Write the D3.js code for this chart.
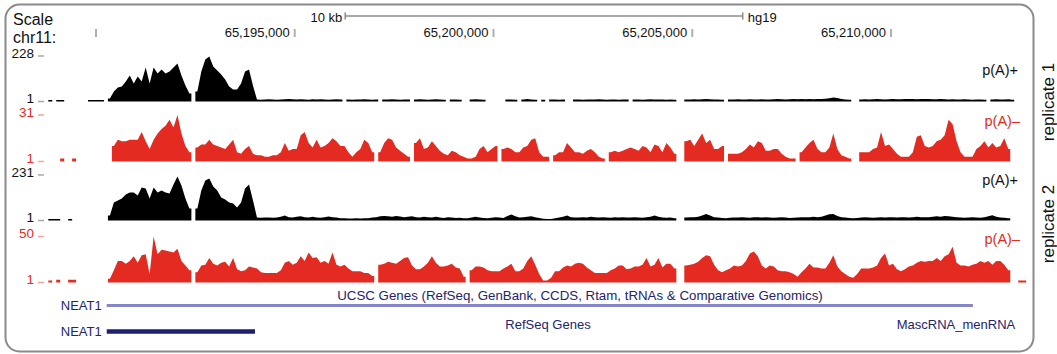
<!DOCTYPE html>
<html><head><meta charset="utf-8">
<script src="https://cdn.jsdelivr.net/npm/d3@7"></script>
<style>html,body{margin:0;padding:0;background:#fff}svg{display:block}</style>
</head><body><svg id="c" width="1057" height="354"></svg>
<script>
// ---------------- data ----------------
const chromName = "chr11";
const assembly = "hg19";
const viewRange = [65188340, 65213497];
const binStart = 65188700;
const binSize = 100;
const positionTicks = [65190000, 65195000, 65200000, 65205000, 65210000];
const positionLabels = ["", "65,195,000", "65,200,000", "65,205,000", "65,210,000"];
const scaleBar = [65196270, 65206270];
const trackNames = ["p(A)+", "p(A)\u2013", "p(A)+", "p(A)\u2013"];
const trackMax = [228, 31, 231, 50];
const trackMin = [1, 1, 1, 1];
const replicateLabels = ["replicate 1", "replicate 2"];

const rep1PolyAPlus = [
null,8,null,8,8,null,null,null,null,null,
null,8,8,8,8,null,16,51,71,76,
101,131,91,126,101,171,91,171,141,161,
141,151,171,191,131,81,41,null,51,151,
211,226,176,156,136,111,76,61,61,91,
151,161,80,11,10,11,12,11,10,11,
12,13,12,11,12,11,10,12,11,12,
11,10,11,12,11,null,11,10,11,11,
12,11,10,11,null,11,11,12,11,10,
11,11,null,11,12,11,10,11,12,11,
10,null,11,11,10,null,null,11,12,11,
10,null,null,null,null,null,11,11,10,null,
11,13,11,10,null,10,null,11,11,10,
11,null,null,11,11,10,11,11,11,12,
11,10,11,11,10,11,11,null,11,11,
10,11,12,11,11,11,10,11,10,null,
null,11,11,12,11,12,14,12,11,11,
10,null,11,11,12,11,11,12,11,11,
12,11,11,12,13,12,11,12,13,12,
13,12,13,12,13,14,15,17,21,18,
13,11,10,null,null,11,12,11,12,13,
12,11,12,13,12,12,13,14,13,12,
13,14,13,12,12,13,12,11,12,11,
11,12,11,10,11,11,10,null,11,12,
11,11,12,10,null,null,null,null];

const rep1PolyAMinus = [
null,null,null,null,3,null,null,3,null,null,
null,null,null,null,null,null,null,11,15,14,
14,15,15,15,20,14,9,15,19,22,
24,28,23,31,19,11,7,null,10,12,
12,15,12,11,10,9,12,15,7,6,
9,11,6,5,5,4,4,5,5,7,
13,8,9,9,18,20,13,10,15,10,
11,13,16,14,11,11,7,4,7,9,
15,13,7,null,7,13,16,15,10,8,
6,4,null,13,16,9,10,14,11,8,
6,5,8,7,5,4,3,3,4,9,
11,7,9,11,null,9,10,9,7,7,
10,11,15,16,7,4,4,null,5,7,
7,13,10,7,7,6,8,9,7,4,
3,null,7,8,7,8,9,10,9,8,
11,10,7,12,11,7,13,10,6,null,
null,14,15,11,15,19,13,15,9,9,
11,null,6,6,6,7,9,12,10,14,
13,8,8,9,9,6,4,3,3,null,
7,10,13,15,9,7,7,10,19,9,
5,4,3,null,null,7,7,7,9,10,
20,11,12,9,6,4,4,4,7,17,
18,11,10,11,14,15,18,28,25,14,
7,4,4,4,9,11,14,10,13,10,
11,16,9,null,null,null,null,null];

const rep2PolyAPlus = [
null,8,8,8,null,null,8,null,null,null,
null,null,null,null,null,null,26,92,102,112,
132,142,142,127,168,163,112,168,142,153,
142,137,183,223,178,112,62,null,62,153,
203,213,173,153,117,107,92,87,67,92,
163,183,102,16,15,16,16,15,16,20,
26,18,16,20,22,17,16,20,16,15,
18,21,17,16,13,12,11,11,12,11,
12,13,16,18,22,24,22,20,24,21,
18,20,22,18,16,20,18,16,20,16,
14,18,16,14,15,13,12,16,20,16,
14,13,15,18,16,14,24,31,22,16,
18,20,22,18,14,10,8,9,12,16,
20,26,18,16,16,18,16,20,17,16,
18,16,15,17,16,18,16,16,17,16,
15,18,20,26,20,16,15,16,12,null,
null,16,18,18,20,26,34,26,18,16,
14,12,15,16,16,18,16,15,18,17,
16,18,16,15,16,18,16,14,15,16,
18,17,18,20,18,20,26,32,34,24,
18,16,14,12,14,16,18,16,15,16,
18,16,17,18,16,17,18,16,18,20,
18,17,18,20,22,20,24,22,20,18,
16,15,16,18,16,15,18,22,28,20,
16,15,12,null,null,null,null,null];

const rep2PolyAMinus = [
null,3,null,4,null,null,4,4,null,null,
null,null,null,null,null,null,5,14,24,24,
21,24,29,22,30,31,10,50,31,36,
35,34,33,37,24,19,14,null,12,19,
20,27,21,19,22,23,18,27,15,13,
14,18,17,16,12,11,11,11,11,14,
22,24,20,22,29,24,33,27,28,22,
24,21,33,20,18,20,16,13,13,13,
11,11,8,null,20,21,23,22,21,24,
27,28,19,15,15,18,22,29,22,18,
18,19,21,17,16,7,null,14,18,18,
17,14,13,13,13,16,18,21,13,13,
16,24,29,20,10,3,3,6,13,13,
17,19,18,21,22,21,17,14,11,11,
11,11,14,16,19,19,15,16,18,18,
20,27,18,20,27,17,21,21,16,null,
null,19,20,21,23,27,30,29,20,14,
12,14,16,19,18,19,24,32,34,29,
19,16,19,18,14,13,13,12,10,7,
12,16,21,17,17,16,16,22,30,18,
13,10,7,6,10,16,16,16,17,19,
27,32,19,21,15,13,15,18,19,22,
24,23,24,24,27,24,29,31,39,22,
19,19,18,20,21,24,22,24,20,24,
24,20,14,null,null,3,3,null];

const geneGroupTitles = ["UCSC Genes (RefSeq, GenBank, CCDS, Rtam, tRNAs & Comparative Genomics)", "RefSeq Genes"];
const geneNames = ["NEAT1", "NEAT1"];
const geneStarts = [65190270, 65190270];
const geneEnds = [65212060, 65194000];
const extraGeneLabel = "MascRNA_menRNA";

// ---------------- drawing ----------------
const svg = d3.select("#c");
const FONT = "'Liberation Sans', Arial, Helvetica, sans-serif";
const RED = "#e32b21";
const NAVY = "#23236e";
const trackColors = ["#000", RED, "#000", RED];
const trackData = [rep1PolyAPlus, rep1PolyAMinus, rep2PolyAPlus, rep2PolyAMinus];
const trackBox = [[56, 101.5], [115, 161.5], [175, 220.5], [236.5, 282.5]];

const x = d3.scaleLinear().domain(viewRange).range([30, 1030]);

// frame
svg.append("rect").attr("x", 5.5).attr("y", 4.5).attr("width", 1028).attr("height", 347)
  .attr("rx", 14).attr("ry", 14).attr("fill", "none").attr("stroke", "#8a8a8a").attr("stroke-width", 2);

// ruler
svg.append("text").attr("x", 13).attr("y", 25).text("Scale")
  .attr("font-family", FONT).attr("font-size", 16).attr("fill", "#111");
svg.append("text").attr("x", 13).attr("y", 43).text(chromName + ":")
  .attr("font-family", FONT).attr("font-size", 16).attr("fill", "#111");

const sb0 = x(scaleBar[0]), sb1 = x(scaleBar[1]);
svg.append("line").attr("x1", sb0).attr("x2", sb1).attr("y1", 16).attr("y2", 16)
  .attr("stroke", "#a9a9a9").attr("stroke-width", 2);
[sb0, sb1].forEach(v => svg.append("line").attr("x1", v).attr("x2", v).attr("y1", 12.5).attr("y2", 19.5)
  .attr("stroke", "#8a8a8a").attr("stroke-width", 1.5));
svg.append("text").attr("x", sb0 - 3).attr("y", 22).attr("text-anchor", "end")
  .text(((scaleBar[1] - scaleBar[0]) / 1000) + " kb")
  .attr("font-family", FONT).attr("font-size", 13).attr("fill", "#111");
svg.append("text").attr("x", sb1 + 5).attr("y", 22).text(assembly)
  .attr("font-family", FONT).attr("font-size", 13).attr("fill", "#111");

const tickG = svg.append("g");
tickG.selectAll("rect").data(positionTicks).join("rect")
  .attr("x", d => x(d) - 1).attr("y", 29).attr("width", 2).attr("height", 8).attr("fill", "#b0b0b0");
tickG.selectAll("text").data(positionTicks).join("text")
  .attr("x", d => x(d) - 5).attr("y", 37).attr("text-anchor", "end")
  .text((d, i) => positionLabels[i])
  .attr("font-family", FONT).attr("font-size", 13).attr("fill", "#111");

// coverage tracks
function buildPoints(vals) {
  const pts = [];
  for (let i = 0; i < vals.length; i++) {
    const v = vals[i];
    if (v == null) continue;
    const s = binStart + i * binSize;
    const prev = i > 0 ? vals[i - 1] : null;
    const next = i < vals.length - 1 ? vals[i + 1] : null;
    if (prev == null) pts.push({p: s, v: v});
    pts.push({p: s + binSize / 2, v: v});
    if (next == null) { pts.push({p: s + binSize, v: v}); pts.push({p: s + binSize, v: null}); }
  }
  return pts;
}

trackData.forEach((vals, t) => {
  const [top, base] = trackBox[t];
  const y = d3.scaleLinear().domain([trackMin[t], trackMax[t]]).range([base, top]).clamp(true);
  const area = d3.area().defined(d => d.v != null)
    .x(d => x(d.p)).y0(base).y1(d => y(d.v)).curve(d3.curveLinear);
  svg.append("path").datum(buildPoints(vals)).attr("d", area)
    .attr("fill", trackColors[t]).attr("stroke", "none");

  const isRed = trackColors[t] !== "#000";
  const tickCol = isRed ? "#f2a6a0" : "#a8a8a8";
  [trackMax[t], trackMin[t]].forEach(v => {
    svg.append("line").attr("x1", 38).attr("x2", 44).attr("y1", y(v)).attr("y2", y(v))
      .attr("stroke", tickCol).attr("stroke-width", 1.5);
    svg.append("text").attr("x", 34).attr("y", y(v) + 1.5).attr("text-anchor", "end").text(v)
      .attr("font-family", FONT).attr("font-size", 13.5).attr("fill", isRed ? RED : "#111");
  });
  const nameY = [75, 126, 185, 244][t];
  svg.append("text").attr("x", isRed ? 1020 : 1018).attr("y", nameY).attr("text-anchor", "end")
    .text(trackNames[t]).attr("font-family", FONT).attr("font-size", 14.5)
    .attr("fill", isRed ? RED : "#111");
});

// replicate labels
[102, 224].forEach((cy, i) => {
  svg.append("text").attr("transform", `translate(1054,${cy}) rotate(-90)`)
    .attr("text-anchor", "middle").text(replicateLabels[i])
    .attr("font-family", FONT).attr("font-size", 17).attr("fill", "#111");
});

// gene tracks
svg.append("text").attr("x", 580).attr("y", 300).attr("text-anchor", "middle").text(geneGroupTitles[0])
  .attr("font-family", FONT).attr("font-size", 13.3).attr("fill", NAVY);
svg.append("text").attr("x", 548).attr("y", 329).attr("text-anchor", "middle").text(geneGroupTitles[1])
  .attr("font-family", FONT).attr("font-size", 13).attr("fill", NAVY);
svg.append("text").attr("x", 956).attr("y", 329).attr("text-anchor", "middle").text(extraGeneLabel)
  .attr("font-family", FONT).attr("font-size", 13).attr("fill", NAVY);

const geneY = [305.5, 331.5];
const geneH = [3, 4.5];
const geneCol = ["#8686cc", "#1f1f72"];
geneNames.forEach((g, i) => {
  svg.append("rect").attr("x", x(geneStarts[i])).attr("y", geneY[i] - geneH[i] / 2)
    .attr("width", x(geneEnds[i]) - x(geneStarts[i])).attr("height", geneH[i])
    .attr("fill", geneCol[i]);
  svg.append("text").attr("x", x(geneStarts[i]) - 5).attr("y", geneY[i] + 4.5).attr("text-anchor", "end")
    .text(g).attr("font-family", FONT).attr("font-size", 13).attr("fill", NAVY);
});
</script></body></html>
